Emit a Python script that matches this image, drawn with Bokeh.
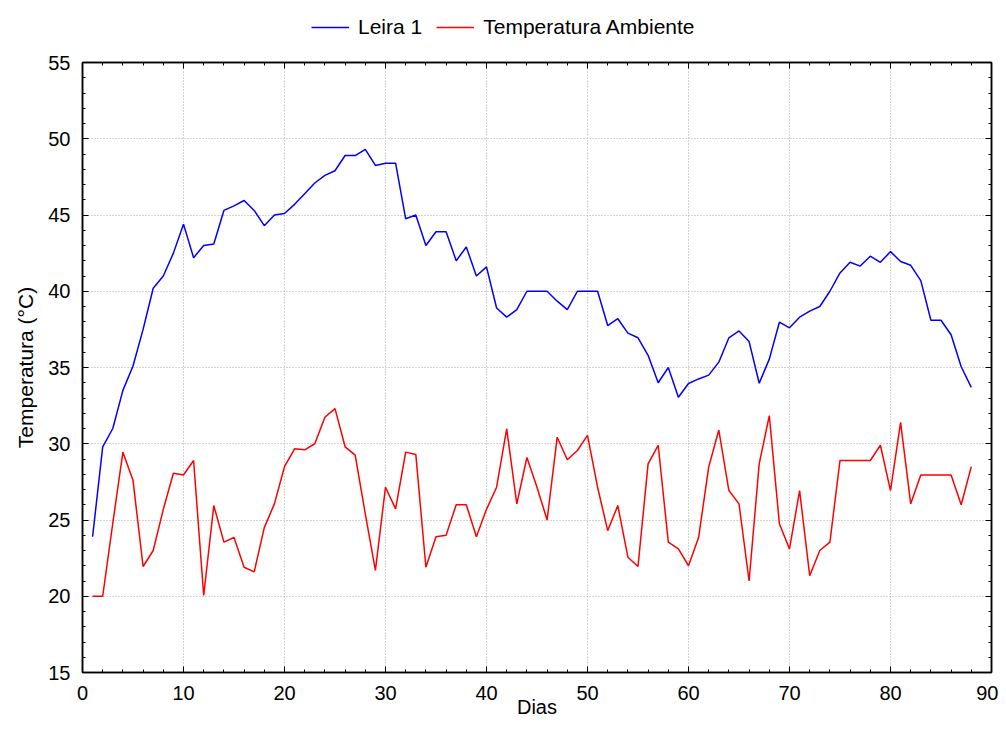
from bokeh.plotting import figure
from bokeh.models import (Range1d, LinearAxis, SingleIntervalTicker, Legend, LegendItem)
from bokeh.layouts import column
from bokeh.embed import file_html
from bokeh.resources import INLINE

dias = list(range(1, 89))
leira1 = [23.9, 29.8, 31.0, 33.5, 35.1, 37.5, 40.2, 41.0, 42.5, 44.4,
          42.2, 43.0, 43.1, 45.3, 45.6, 45.95, 45.3, 44.3, 45.0, 45.1,
          45.7, 46.4, 47.1, 47.6, 47.9, 48.9, 48.9, 49.3, 48.25, 48.4,
          48.4, 44.75, 45.0, 43.0, 43.9, 43.9, 42.0, 42.9, 41.0, 41.6,
          38.9, 38.3, 38.8, 40.0, 40.0, 40.0, 39.35, 38.8, 40.0, 40.0,
          40.0, 37.75, 38.2, 37.25, 36.95, 35.8, 34.0, 35.0, 33.05, 33.95,
          34.25, 34.5, 35.35, 36.95, 37.4, 36.7, 33.97, 35.55, 37.97, 37.6,
          38.3, 38.7, 39.0, 40.0, 41.2, 41.9, 41.65, 42.3, 41.9, 42.6,
          41.95, 41.7, 40.7, 38.1, 38.1, 37.15, 35.05, 33.7]
ambiente = [20.0, 20.0, 24.8, 29.45, 27.6, 21.95, 23.0, 25.7, 28.07, 27.95,
            28.9, 20.05, 25.95, 23.55, 23.85, 21.9, 21.6, 24.5, 26.06, 28.5,
            29.67, 29.6, 30.0, 31.74, 32.3, 29.8, 29.25, 25.4, 21.7, 27.15,
            25.73, 29.45, 29.3, 21.9, 23.9, 24.0, 26.0, 26.0, 23.9, 25.7,
            27.15, 30.98, 26.06, 29.1, 27.15, 25.0, 30.43, 28.95, 29.56, 30.55,
            27.15, 24.3, 25.95, 22.56, 21.95, 28.68, 29.9, 23.55, 23.1, 22.0,
            23.85, 28.47, 30.9, 26.93, 26.06, 21.0, 28.68, 31.85, 24.75, 23.1,
            26.93, 21.35, 23.0, 23.55, 28.9, 28.9, 28.9, 28.9, 29.9, 26.93,
            31.4, 26.06, 27.95, 27.95, 27.95, 27.95, 26.0, 28.5]

series_names = ["Leira 1", "Temperatura Ambiente"]
series_colors = ["#0000ff", "#ff0000"]
x_label = "Dias"
y_label = "Temperatura (°C)"

FONT = "Liberation Sans"

# ---- legend strip on top ----
lf = figure(width=998, height=40, output_backend="svg", toolbar_location=None,
            x_range=Range1d(0, 1), y_range=Range1d(0, 1),
            x_axis_type=None, y_axis_type=None,
            min_border_left=0, min_border_right=0, min_border_top=0, min_border_bottom=0)
lf.outline_line_color = None
lf.xgrid.visible = False
lf.ygrid.visible = False
# proxy renderers placed outside the visible range: they only feed the legend
lr1 = lf.line([2, 3], [2, 2], line_color=series_colors[0], line_width=1.5)
lr2 = lf.line([2, 3], [2, 2], line_color=series_colors[1], line_width=1.5)
legend = Legend(items=[LegendItem(label=series_names[0], renderers=[lr1]),
                       LegendItem(label=series_names[1], renderers=[lr2])],
                orientation="horizontal", location=(229, 1),
                padding=0, margin=0, spacing=14, glyph_width=38, glyph_height=20,
                label_standoff=9, label_text_font=FONT, label_text_font_size="21px",
                label_text_color="black",
                border_line_color=None, background_fill_alpha=0)
lf.add_layout(legend, "center")

# ---- main chart ----
p = figure(width=998, height=696, output_backend="svg", toolbar_location=None,
           x_range=Range1d(0, 90), y_range=Range1d(15, 55),
           min_border_left=82, min_border_right=7, min_border_top=22, min_border_bottom=64,
           x_axis_label=x_label, y_axis_label=y_label)

p.outline_line_color = "black"
p.outline_line_width = 1.5

xt = SingleIntervalTicker(interval=10, num_minor_ticks=5)
yt = SingleIntervalTicker(interval=5, num_minor_ticks=5)
p.xaxis.ticker = xt
p.yaxis.ticker = yt

for ax in [p.xaxis[0], p.yaxis[0]]:
    ax.axis_line_color = "black"
    ax.axis_line_width = 1.5
    ax.major_tick_in = 6
    ax.major_tick_out = 0
    ax.minor_tick_in = 3
    ax.minor_tick_out = 0
    ax.major_tick_line_color = "black"
    ax.minor_tick_line_color = "black"
    ax.major_label_text_font = FONT
    ax.major_label_text_font_size = "20px"
    ax.major_label_text_color = "black"
    ax.axis_label_text_font = FONT
    ax.axis_label_text_font_style = "normal"
    ax.axis_label_text_color = "black"

p.xaxis.axis_label_text_font_size = "20px"
p.yaxis.axis_label_text_font_size = "21px"
p.xaxis.major_label_standoff = 13
p.xaxis.axis_label_standoff = -7
p.yaxis.major_label_standoff = 12
p.yaxis.axis_label_standoff = 8

for loc, tk in [("above", xt), ("right", yt)]:
    ax = LinearAxis(ticker=tk, major_label_text_font_size="1px",
                    major_label_text_color=None,
                    major_label_standoff=0, axis_line_color="black",
                    axis_line_width=1.5, major_tick_in=6, major_tick_out=0,
                    minor_tick_in=3, minor_tick_out=0)
    p.add_layout(ax, loc)

p.xgrid.ticker = xt
p.ygrid.ticker = yt
for g in [p.xgrid[0], p.ygrid[0]]:
    g.grid_line_color = "#a8a8a8"
    g.grid_line_dash = "1 2"
    g.grid_line_width = 1

p.line(dias, leira1, line_color=series_colors[0], line_width=1.5)
p.line(dias, ambiente, line_color=series_colors[1], line_width=1.5)

layout = column(lf, p, spacing=0)
open("out.html", "w").write(file_html(layout, INLINE))
